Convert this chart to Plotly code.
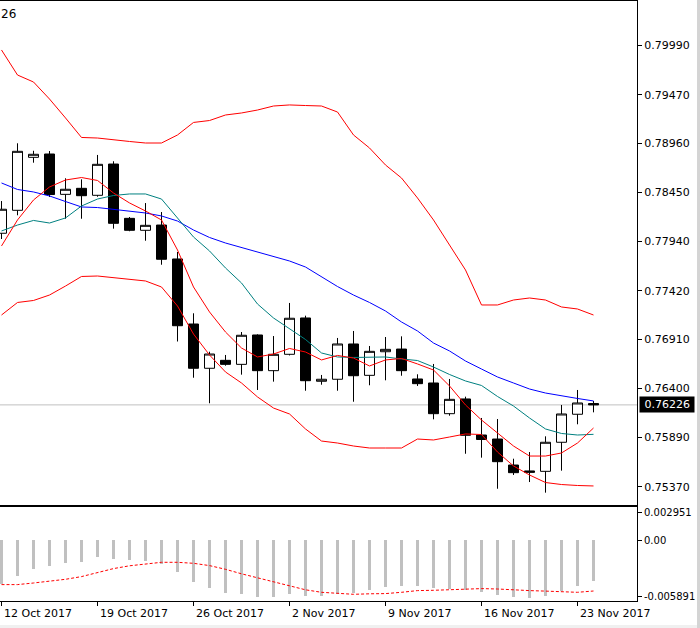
import plotly.graph_objects as go

# ---------------- data ----------------
dates = ["12 Oct", "13 Oct", "15 Oct", "16 Oct", "17 Oct", "18 Oct", "19 Oct", "20 Oct",
         "22 Oct", "23 Oct", "24 Oct", "25 Oct", "26 Oct", "27 Oct", "29 Oct", "30 Oct",
         "31 Oct", "1 Nov", "2 Nov", "3 Nov", "5 Nov", "6 Nov", "7 Nov", "8 Nov", "9 Nov",
         "10 Nov", "12 Nov", "13 Nov", "14 Nov", "15 Nov", "16 Nov", "17 Nov", "19 Nov",
         "20 Nov", "21 Nov", "22 Nov", "23 Nov", "24 Nov"]

open_ = [0.78021, 0.78261, 0.78815, 0.78850, 0.78428, 0.78491, 0.78418, 0.78745, 0.78177, 0.78052,
         0.78107, 0.77752, 0.77072, 0.76609, 0.76692, 0.76650, 0.76957, 0.76584, 0.76755, 0.77135,
         0.76473, 0.76494, 0.76863, 0.76535, 0.76782, 0.76810, 0.76497, 0.76455, 0.76134, 0.76288,
         0.75911, 0.75869, 0.75597, 0.75535, 0.75531, 0.75835, 0.76128, 0.76240]
high = [0.78358, 0.78962, 0.78884, 0.78881, 0.78596, 0.78585, 0.78840, 0.78774, 0.78191, 0.78337,
        0.78243, 0.77825, 0.77184, 0.76782, 0.76748, 0.76988, 0.76964, 0.76946, 0.77292, 0.77159,
        0.76539, 0.76926, 0.76999, 0.76842, 0.76936, 0.76943, 0.76546, 0.76654, 0.76497, 0.76312,
        0.76089, 0.76078, 0.75663, 0.75733, 0.75897, 0.76225, 0.76382, 0.76267]
low = [0.77961, 0.78209, 0.78759, 0.78400, 0.78173, 0.78173, 0.78403, 0.78069, 0.78042, 0.77943,
       0.77692, 0.76889, 0.76510, 0.76243, 0.76636, 0.76542, 0.76382, 0.76469, 0.76743, 0.76374,
       0.76437, 0.76374, 0.76259, 0.76431, 0.76483, 0.76531, 0.76424, 0.76075, 0.76113, 0.75715,
       0.75674, 0.75349, 0.75493, 0.75419, 0.75308, 0.75538, 0.76023, 0.76148]
close = [0.78272, 0.78878, 0.78847, 0.78426, 0.78481, 0.78414, 0.78742, 0.78125, 0.78052, 0.78104,
         0.77749, 0.77054, 0.76609, 0.76758, 0.76650, 0.76954, 0.76584, 0.76755, 0.77132, 0.76479,
         0.76494, 0.76863, 0.76531, 0.76786, 0.76807, 0.76584, 0.76448, 0.76134, 0.76284, 0.75908,
         0.75864, 0.75632, 0.75517, 0.75521, 0.75835, 0.76131, 0.76246, 0.76226]

band_upper = [0.79938, 0.79676, 0.79603, 0.79425, 0.79227, 0.79023, 0.79017, 0.78996, 0.78981, 0.78965,
              0.78965, 0.79049, 0.79180, 0.79200, 0.79258, 0.79279, 0.79310, 0.79352, 0.79363, 0.79357,
              0.79352, 0.79289, 0.79049, 0.78913, 0.78735, 0.78599, 0.78390, 0.78160, 0.77898, 0.77637,
              0.77271, 0.77271, 0.77323, 0.77344, 0.77323, 0.77250, 0.77229, 0.77166]
band_lower = [0.77166, 0.77297, 0.77318, 0.77375, 0.77469, 0.77569, 0.77574, 0.77558, 0.77543, 0.77522,
              0.77459, 0.77260, 0.76967, 0.76748, 0.76570, 0.76455, 0.76309, 0.76193, 0.76131, 0.75974,
              0.75848, 0.75827, 0.75796, 0.75775, 0.75775, 0.75775, 0.75869, 0.75859, 0.75890, 0.75922,
              0.75916, 0.75733, 0.75587, 0.75493, 0.75414, 0.75393, 0.75383, 0.75378]
ma_blue = [0.78547, 0.78479, 0.78453, 0.78411, 0.78353, 0.78296, 0.78290, 0.78270, 0.78254, 0.78233,
           0.78202, 0.78149, 0.78055, 0.77977, 0.77919, 0.77872, 0.77830, 0.77783, 0.77731, 0.77668,
           0.77564, 0.77464, 0.77375, 0.77297, 0.77208, 0.77093, 0.76999, 0.76873, 0.76790, 0.76685,
           0.76601, 0.76518, 0.76455, 0.76392, 0.76350, 0.76319, 0.76293, 0.76267]
ma_teal = [0.78045, 0.78107, 0.78155, 0.78128, 0.78181, 0.78306, 0.78379, 0.78416, 0.78432, 0.78432,
           0.78379, 0.78181, 0.77982, 0.77836, 0.77658, 0.77501, 0.77281, 0.77135, 0.77020, 0.76910,
           0.76769, 0.76727, 0.76722, 0.76727, 0.76727, 0.76706, 0.76690, 0.76622, 0.76544, 0.76476,
           0.76429, 0.76314, 0.76214, 0.76089, 0.75974, 0.75927, 0.75911, 0.75918]
ma_red = [0.77888, 0.78160, 0.78369, 0.78505, 0.78578, 0.78604, 0.78573, 0.78442, 0.78338, 0.78254,
          0.78160, 0.77846, 0.77459, 0.77198, 0.76988, 0.76821, 0.76727, 0.76758, 0.76816, 0.76779,
          0.76696, 0.76743, 0.76716, 0.76633, 0.76696, 0.76711, 0.76654, 0.76591, 0.76424, 0.76225,
          0.76068, 0.75932, 0.75796, 0.75691, 0.75691, 0.75723, 0.75827, 0.75984]

osc_hist = [-0.004580, -0.003807, -0.003067, -0.002718, -0.002401, -0.002295, -0.001766, -0.002009,
            -0.002115, -0.002221, -0.002464, -0.003353, -0.004410, -0.005045, -0.005574, -0.005711,
            -0.005997, -0.005997, -0.005711, -0.005891, -0.005891, -0.005637, -0.005531, -0.005214,
            -0.004939, -0.004833, -0.004833, -0.005045, -0.005108, -0.005288, -0.005468, -0.005817,
            -0.005997, -0.006102, -0.005891, -0.005394, -0.004833, -0.004304]
osc_signal = [-0.004685, -0.004685, -0.004516, -0.004336, -0.004125, -0.003839, -0.003416, -0.002993,
              -0.002697, -0.002517, -0.002327, -0.002327, -0.002433, -0.002676, -0.003067, -0.003543,
              -0.003966, -0.004442, -0.004865, -0.005235, -0.005500, -0.005605, -0.005711, -0.005658,
              -0.005637, -0.005500, -0.005320, -0.005288, -0.005214, -0.005151, -0.005108, -0.005151,
              -0.005256, -0.005320, -0.005373, -0.005468, -0.005500, -0.005362]

price_ticks = [0.79990, 0.79470, 0.78960, 0.78450, 0.77940, 0.77420, 0.76910, 0.76400, 0.75890, 0.75370]
osc_ticks = [0.002951, 0.0, -0.005891]
osc_tick_text = ["0.002951", "0.00", "-0.005891"]
date_labels = ["12 Oct 2017", "19 Oct 2017", "26 Oct 2017", "2 Nov 2017", "9 Nov 2017",
               "16 Nov 2017", "23 Nov 2017"]
date_label_days = ["12 Oct", "19 Oct", "26 Oct", "2 Nov", "9 Nov", "16 Nov", "23 Nov"]

# ---------------- layout geometry ----------------
W, H = 700, 628
ML, MR, MT, MB = 0, 63, 1, 27
PW, PH = W - ML - MR, H - MT - MB
FONT = "DejaVu Sans"

x = list(range(len(dates)))
date_pos = [dates.index(d) for d in date_label_days]


def paper_x(px):
    return (px - ML) / PW


def paper_y(py):
    return (H - MB - py) / PH


fig = go.Figure()

fig.add_trace(go.Candlestick(
    x=x, open=open_, high=high, low=low, close=close,
    increasing=dict(fillcolor="white", line=dict(color="black", width=1)),
    decreasing=dict(fillcolor="black", line=dict(color="black", width=1)),
    whiskerwidth=0, showlegend=False, xaxis="x", yaxis="y"))

for vals, col in [(band_upper, "#FF0000"), (band_lower, "#FF0000"),
                  (ma_blue, "#0000FF"), (ma_teal, "#008080"), (ma_red, "#FF0000")]:
    fig.add_trace(go.Scatter(x=x, y=vals, mode="lines", line=dict(color=col, width=1),
                             showlegend=False, hoverinfo="skip", xaxis="x", yaxis="y"))

fig.add_trace(go.Bar(x=x, y=osc_hist, width=0.19, marker=dict(color="#C0C0C0", line=dict(width=0)),
                     showlegend=False, xaxis="x2", yaxis="y2"))
fig.add_trace(go.Scatter(x=x, y=osc_signal, mode="lines",
                         line=dict(color="#FF0000", width=1, dash="3px,2px"),
                         showlegend=False, xaxis="x2", yaxis="y2"))

x_range = [-1.5 / 16, -1.5 / 16 + PW / 16]
axis_common = dict(showgrid=False, zeroline=False, showline=True, linecolor="black", linewidth=1)

fig.update_layout(
    width=W, height=H,
    margin=dict(l=ML, r=MR, t=MT, b=MB, pad=0),
    paper_bgcolor="white", plot_bgcolor="white",
    font=dict(family=FONT, size=11, color="black"),
    boxgap=0.375, boxgroupgap=0,
    bargap=0,
    xaxis=dict(domain=[0, 1], range=x_range, anchor="y", mirror=True, showticklabels=False,
               ticks="", rangeslider=dict(visible=False), **axis_common),
    yaxis=dict(domain=[paper_y(505), 1], range=[0.751789, 0.804502], side="right", anchor="x",
               tickvals=price_ticks, tickformat=".5f", ticks="outside", ticklen=4,
               tickcolor="black", tickfont=dict(family=FONT, size=11, color="black"), **axis_common),
    xaxis2=dict(domain=[0, 1], range=x_range, anchor="y2", matches="x", mirror=True,
                tickvals=date_pos, ticks="outside", ticklen=4, tickcolor="black",
                showticklabels=False, **axis_common),
    yaxis2=dict(domain=[0, paper_y(507)], range=[-0.00642, 0.003522], side="right", anchor="x2",
                tickvals=osc_ticks, ticktext=osc_tick_text, ticks="outside", ticklen=4,
                tickcolor="black", tickfont=dict(family=FONT, size=10, color="black"), **axis_common),
    hovermode=False,
)

# current price line and label
fig.add_shape(type="line", xref="paper", yref="y", x0=0, x1=1, y0=close[-1], y1=close[-1],
              line=dict(color="#C0C0C0", width=1), layer="below")
fig.add_annotation(xref="paper", yref="y", x=1, y=close[-1], xanchor="left", yanchor="middle",
                   xshift=2, text="\u00a0" + f"{close[-1]:.5f}" + "\u00a0", showarrow=False,
                   bgcolor="black", borderpad=1,
                   font=dict(family=FONT, size=11, color="white"))

# window frame remnants (right and bottom edges)
fig.add_shape(type="rect", xref="paper", yref="paper", x0=paper_x(697), x1=paper_x(700),
              y0=paper_y(628), y1=paper_y(0), fillcolor="#D4D4D4", line=dict(width=0))
fig.add_shape(type="rect", xref="paper", yref="paper", x0=paper_x(0), x1=paper_x(697),
              y0=paper_y(628), y1=paper_y(625), fillcolor="#F0F0F0", line=dict(width=0))

# title remnant at top-left
fig.add_annotation(xref="paper", yref="paper", x=paper_x(-1), y=1, xanchor="left", yanchor="top",
                   yshift=-4, text="26", showarrow=False,
                   font=dict(family=FONT, size=12, color="black"))

# date labels (left aligned at the tick, MT4 style)
for pos, lab in zip(date_pos, date_labels):
    fig.add_annotation(xref="x2", yref="paper", x=pos, y=0, xanchor="left", yanchor="top",
                       yshift=-4, xshift=0, text=lab, showarrow=False,
                       font=dict(family=FONT, size=11, color="black"))

fig.write_html("out.html")
